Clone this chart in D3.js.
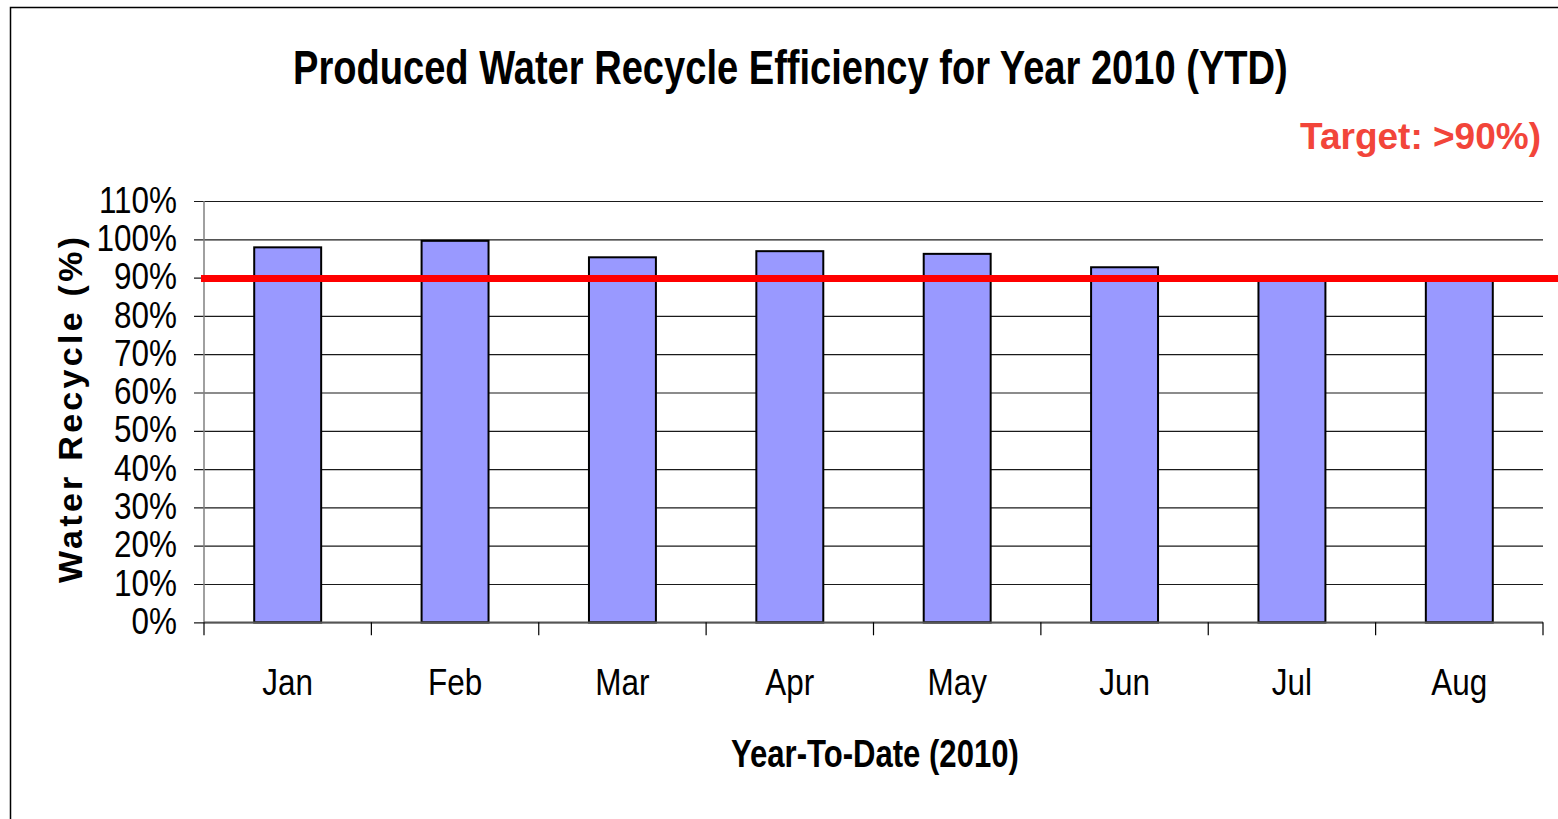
<!DOCTYPE html>
<html>
<head>
<meta charset="utf-8">
<script src="https://cdn.jsdelivr.net/npm/d3@7"></script>
<style>
  html, body { margin: 0; padding: 0; background: #ffffff; }
  svg { display: block; }
</style>
</head>
<body>
<svg id="chart" width="1558" height="819"></svg>
<script>
// Monthly recycle efficiency, percent
const months = ["Jan", "Feb", "Mar", "Apr", "May", "Jun", "Jul", "Aug"];
const recyclePct = [97.9, 99.6, 95.3, 96.9, 96.2, 92.7, 90.0, 90.0];
const targetPct = 90;
const yTicks = [0, 10, 20, 30, 40, 50, 60, 70, 80, 90, 100, 110];

const titleText = "Produced Water Recycle Efficiency for Year 2010 (YTD)";
const targetText = "Target: >90%)";
const xTitleText = "Year-To-Date (2010)";
const yTitleText = "Water Recycle (%)";

const FONT = "'Liberation Sans', Arial, sans-serif";
const SQUEEZE = 0.85; // horizontal condensing for the narrow-style labels

const svg = d3.select("#chart");

// outer chart frame (runs off the right and bottom edges)
svg.append("rect")
  .attr("x", 10.5).attr("y", 7.5)
  .attr("width", 1700).attr("height", 900)
  .attr("fill", "#ffffff")
  .attr("stroke", "#000000")
  .attr("stroke-width", 1.5);

const plot = { left: 204, right: 1543, top: 201, bottom: 622.3 };

const x = d3.scaleBand()
  .domain(months)
  .range([plot.left, plot.right])
  .paddingInner(0.6)
  .paddingOuter(0.3);

const y = d3.scaleLinear()
  .domain([0, 110])
  .range([plot.bottom, plot.top]);

// horizontal gridlines with short ticks to the left
const yAxis = d3.axisLeft(y)
  .tickValues(yTicks)
  .tickSize(10)
  .tickFormat(d => d + "%");

const gy = svg.append("g")
  .attr("transform", `translate(${plot.left}, 0)`)
  .call(yAxis);
gy.select(".domain").remove();
gy.selectAll(".tick line")
  .attr("x1", -10)
  .attr("x2", plot.right - plot.left)
  .attr("stroke", "#1a1a1a")
  .attr("stroke-width", 1.2);
gy.selectAll(".tick text")
  .attr("x", -27 / SQUEEZE)
  .attr("dy", "0.3em")
  .attr("transform", `scale(${SQUEEZE},1)`)
  .attr("fill", "#000")
  .style("font-family", FONT)
  .style("font-size", "37px");

// left axis line
svg.append("line")
  .attr("x1", plot.left).attr("x2", plot.left)
  .attr("y1", plot.top).attr("y2", plot.bottom)
  .attr("stroke", "#808080").attr("stroke-width", 1.5);

// bars
svg.append("g").selectAll("rect")
  .data(months.map((m, i) => ({ m, v: recyclePct[i] })))
  .join("rect")
  .attr("x", d => x(d.m))
  .attr("y", d => y(d.v))
  .attr("width", x.bandwidth())
  .attr("height", d => y(0) - y(d.v))
  .attr("fill", "#9999ff")
  .attr("stroke", "#000000")
  .attr("stroke-width", 2);

// bottom axis: ticks at category boundaries
const boundaries = d3.range(months.length + 1).map(i => plot.left + i * (plot.right - plot.left) / months.length);
svg.append("line")
  .attr("x1", plot.left).attr("x2", plot.right)
  .attr("y1", plot.bottom).attr("y2", plot.bottom)
  .attr("stroke", "#555555").attr("stroke-width", 1.5);
svg.append("g").selectAll("line")
  .data(boundaries)
  .join("line")
  .attr("x1", d => d).attr("x2", d => d)
  .attr("y1", plot.bottom).attr("y2", plot.bottom + 13)
  .attr("stroke", "#000").attr("stroke-width", 1.2);

svg.append("g").selectAll("text")
  .data(months)
  .join("text")
  .attr("transform", d => `translate(${x(d) + x.bandwidth() / 2}, 695) scale(${SQUEEZE},1)`)
  .attr("text-anchor", "middle")
  .style("font-family", FONT)
  .style("font-size", "37px")
  .text(d => d);

// target line
svg.append("line")
  .attr("x1", plot.left - 3).attr("x2", 1560)
  .attr("y1", y(targetPct) + 1).attr("y2", y(targetPct) + 1)
  .attr("stroke", "#ff0000")
  .attr("stroke-width", 7);

// condensed bold text: measured, then scaled horizontally to the given width
function condensed(text, left, baseline, width, size) {
  const t = svg.append("text")
    .attr("x", 0).attr("y", 0)
    .style("font-family", FONT)
    .style("font-weight", "bold")
    .style("font-size", size + "px")
    .text(text);
  const natural = t.node().getComputedTextLength();
  t.attr("transform", `translate(${left}, ${baseline}) scale(${width / natural}, 1)`);
  return t;
}

condensed(titleText, 293, 84, 995, 49);
condensed(xTitleText, 731, 767, 288, 39);

svg.append("text")
  .attr("x", 1541).attr("y", 149)
  .attr("text-anchor", "end")
  .attr("fill", "#f2453a")
  .style("font-family", FONT)
  .style("font-weight", "bold")
  .style("font-size", "37px")
  .text(targetText);

svg.append("text")
  .attr("transform", "translate(82, 583) rotate(-90)")
  .attr("textLength", 346)
  .attr("lengthAdjust", "spacing")
  .style("font-family", FONT)
  .style("font-weight", "bold")
  .style("font-size", "34px")
  .text(yTitleText);
</script>
</body>
</html>
